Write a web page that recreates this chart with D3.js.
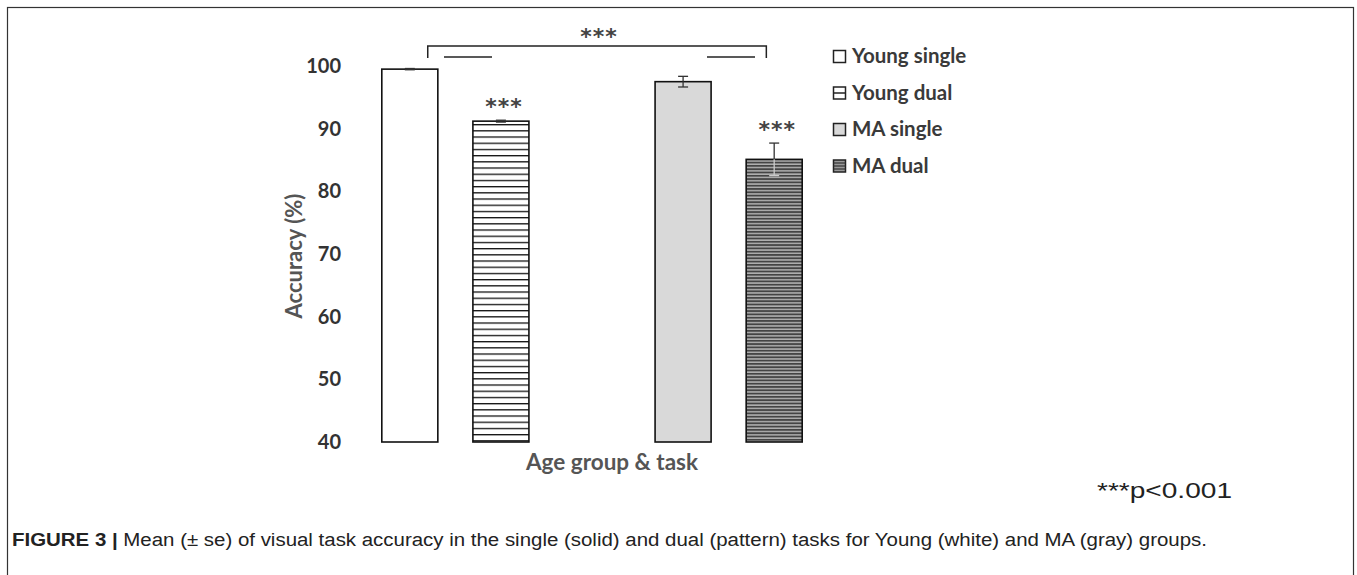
<!DOCTYPE html>
<html>
<head>
<meta charset="utf-8">
<script src="https://cdn.jsdelivr.net/npm/d3@7"></script>
<style>
  body { margin: 0; background: #fff; }
  svg { display: block; }
</style>
</head>
<body>
<div id="chart"></div>
<script>
// ----------------------------
// Data
// ----------------------------
var groups = ["Young single", "Young dual", "", "MA single", "MA dual"];
var means = [99.5, 91.2, null, 97.5, 85.1];
var errors = [0.1, 0.15, null, 0.85, 2.6];
var stars = ["", "***", "", "", "***"];
var legendLabels = ["Young single", "Young dual", "MA single", "MA dual"];
var yTicks = [40, 50, 60, 70, 80, 90, 100];

var Vis = {};
Vis.width = 1357;
Vis.height = 575;
Vis.font = "Lato, 'Open Sans', sans-serif";

Vis.svg = d3.select("#chart").append("svg")
  .attr("width", Vis.width)
  .attr("height", Vis.height);

// frame around the figure
Vis.svg.append("rect")
  .attr("x", 7.5).attr("y", 7.5)
  .attr("width", 1346).attr("height", 600)
  .attr("fill", "none").attr("stroke", "#333").attr("stroke-width", 1.2);

// ----------------------------
// Patterns
// ----------------------------
var defs = Vis.svg.append("defs");
var pYD = defs.append("pattern")
  .attr("id", "youngDual").attr("patternUnits", "userSpaceOnUse")
  .attr("width", 8).attr("height", 6.2);
pYD.append("rect").attr("width", 8).attr("height", 6.2).attr("fill", "#fff");
pYD.append("rect").attr("y", 0).attr("width", 8).attr("height", 1.3).attr("fill", "#111");

var pMD = defs.append("pattern")
  .attr("id", "maDual").attr("patternUnits", "userSpaceOnUse")
  .attr("width", 8).attr("height", 3.3);
pMD.append("rect").attr("width", 8).attr("height", 3.3).attr("fill", "#b0b0b0");
pMD.append("rect").attr("y", 0).attr("width", 8).attr("height", 1.8).attr("fill", "#444");

var fills = ["#ffffff", "url(#youngDual)", "none", "#d9d9d9", "url(#maDual)"];
var legendFills = ["#ffffff", "youngDual", "#d9d9d9", "maDual"];

// ----------------------------
// Scales
// ----------------------------
Vis.x = d3.scaleBand()
  .domain(d3.range(groups.length))
  .range([364.5, 819.5])
  .paddingInner(0.385)
  .paddingOuter(0.19);

Vis.y = d3.scaleLinear()
  .domain([40, 100])
  .range([442, 66]);

// y axis (labels only)
var yAxis = Vis.svg.append("g")
  .attr("transform", "translate(341,0)")
  .call(d3.axisLeft(Vis.y).tickValues(yTicks).tickSize(0).tickPadding(0));
yAxis.select(".domain").remove();
yAxis.selectAll("text")
  .attr("font-family", Vis.font)
  .attr("font-weight", "bold")
  .attr("font-size", 20)
  .attr("fill", "#333");

Vis.svg.append("text")
  .attr("transform", "translate(296,256) rotate(-90)")
  .attr("text-anchor", "middle")
  .attr("dominant-baseline", "middle")
  .attr("font-family", Vis.font)
  .attr("font-weight", "bold")
  .attr("font-size", 22)
  .attr("fill", "#555")
  .text("Accuracy (%)");

Vis.svg.append("text")
  .attr("x", 612).attr("y", 470)
  .attr("text-anchor", "middle")
  .attr("font-family", Vis.font)
  .attr("font-weight", "bold")
  .attr("font-size", 22.5)
  .attr("fill", "#555")
  .text("Age group & task");

// ----------------------------
// Bars
// ----------------------------
var idx = d3.range(groups.length).filter(i => means[i] != null);

Vis.svg.selectAll("rect.bar")
  .data(idx)
  .enter()
  .append("rect")
  .attr("class", "bar")
  .attr("x", i => Vis.x(i))
  .attr("y", i => Vis.y(means[i]))
  .attr("width", Vis.x.bandwidth())
  .attr("height", i => Vis.y(40) - Vis.y(means[i]))
  .attr("fill", i => fills[i])
  .attr("stroke", "#111")
  .attr("stroke-width", 1.6);

// error bars
var cx = i => Vis.x(i) + Vis.x.bandwidth() / 2;
var eb = Vis.svg.selectAll("g.err")
  .data(idx)
  .enter()
  .append("g")
  .attr("class", "err");
eb.append("line")
  .attr("x1", cx).attr("x2", cx)
  .attr("y1", i => Vis.y(means[i] + errors[i]))
  .attr("y2", i => Vis.y(means[i]))
  .attr("stroke", "#333").attr("stroke-width", 1.3);
eb.append("line")
  .attr("x1", cx).attr("x2", cx)
  .attr("y1", i => Vis.y(means[i]))
  .attr("y2", i => Vis.y(means[i] - errors[i]))
  .attr("stroke", i => i == 4 ? "#ccc" : "#333").attr("stroke-width", 1.3);
eb.append("line")
  .attr("x1", i => cx(i) - 5).attr("x2", i => cx(i) + 5)
  .attr("y1", i => Vis.y(means[i] + errors[i]))
  .attr("y2", i => Vis.y(means[i] + errors[i]))
  .attr("stroke", "#333").attr("stroke-width", 1.3);
eb.append("line")
  .attr("x1", i => cx(i) - 5).attr("x2", i => cx(i) + 5)
  .attr("y1", i => Vis.y(means[i] - errors[i]))
  .attr("y2", i => Vis.y(means[i] - errors[i]))
  .attr("stroke", i => i == 4 ? "#ccc" : "#333").attr("stroke-width", 1.3);

// significance stars above bars
Vis.svg.selectAll("text.star")
  .data(idx.filter(i => stars[i]))
  .enter()
  .append("text")
  .attr("class", "star")
  .attr("x", i => cx(i) + 3)
  .attr("y", i => Vis.y(means[i] + errors[i]) - 6)
  .attr("text-anchor", "middle")
  .attr("font-family", "'DejaVu Sans', sans-serif")
  .attr("font-weight", "bold")
  .attr("font-size", 22)
  .attr("fill", "#444")
  .attr("letter-spacing", 1)
  .text(i => stars[i]);

// ----------------------------
// Bracket between single and dual
// ----------------------------
var bx0 = Vis.x(0) + Vis.x.bandwidth() * 0.82;
var bx1 = Vis.x(4) + Vis.x.bandwidth() * 0.36;
var br = Vis.svg.append("g").attr("stroke", "#222").attr("stroke-width", 1.5).attr("fill", "none");
br.append("path").attr("d", `M${bx0},58V46H${bx1}V58`);
br.append("line").attr("x1", 444).attr("x2", 492).attr("y1", 57).attr("y2", 57);
br.append("line").attr("x1", 707).attr("x2", 755).attr("y1", 57).attr("y2", 57);
Vis.svg.append("text")
  .attr("x", 599).attr("y", 44)
  .attr("text-anchor", "middle")
  .attr("font-family", "'DejaVu Sans', sans-serif")
  .attr("font-weight", "bold")
  .attr("font-size", 22)
  .attr("fill", "#444")
  .attr("letter-spacing", 1)
  .text("***");

// ----------------------------
// Legend
// ----------------------------
var lg = Vis.svg.selectAll("g.legend")
  .data(legendLabels)
  .enter()
  .append("g")
  .attr("class", "legend")
  .attr("transform", (d, i) => `translate(833,${57 + i * 36.5})`);

lg.each(function(d, i) {
  var g = d3.select(this);
  if (legendFills[i] == "youngDual") {
    g.append("rect").attr("x", 0.5).attr("y", -6.5).attr("width", 12).attr("height", 12)
      .attr("fill", "#fff").attr("stroke", "#222").attr("stroke-width", 1.5);
    g.append("line").attr("x1", 0.5).attr("x2", 12.5).attr("y1", -0.5).attr("y2", -0.5)
      .attr("stroke", "#222").attr("stroke-width", 1.5);
  } else if (legendFills[i] == "maDual") {
    g.append("rect").attr("x", 0.5).attr("y", -6.5).attr("width", 12).attr("height", 12)
      .attr("fill", "#999").attr("stroke", "#222").attr("stroke-width", 1.5);
    [-3.5, -0.5, 2.5].forEach(yy => g.append("line")
      .attr("x1", 0.5).attr("x2", 12.5).attr("y1", yy).attr("y2", yy)
      .attr("stroke", "#333").attr("stroke-width", 1.2));
  } else {
    g.append("rect").attr("x", 0.5).attr("y", -6.5).attr("width", 12).attr("height", 12)
      .attr("fill", legendFills[i]).attr("stroke", "#222").attr("stroke-width", 1.5);
  }
  g.append("text")
    .attr("x", 19).attr("y", 1)
    .attr("dominant-baseline", "middle")
    .attr("font-family", Vis.font)
    .attr("font-weight", "bold")
    .attr("font-size", 20.5)
    .attr("fill", "#3a3a3a")
    .text(d);
});

// ----------------------------
// Footnote and caption
// ----------------------------
Vis.svg.append("text")
  .attr("x", 1097).attr("y", 498)
  .attr("font-family", "'Liberation Sans', Arial, sans-serif")
  .attr("font-size", 22)
  .attr("fill", "#222")
  .attr("textLength", 135)
  .attr("lengthAdjust", "spacingAndGlyphs")
  .text("***p<0.001");

var cap = Vis.svg.append("text")
  .attr("x", 12).attr("y", 546)
  .attr("font-family", "'Liberation Sans', Arial, sans-serif")
  .attr("font-size", 18)
  .attr("fill", "#222")
  .attr("textLength", 1195)
  .attr("lengthAdjust", "spacingAndGlyphs");
cap.append("tspan").attr("font-weight", "bold").text("FIGURE 3 | ");
cap.append("tspan").text("Mean (\u00b1 se) of visual task accuracy in the single (solid) and dual (pattern) tasks for Young (white) and MA (gray) groups.");
</script>
</body>
</html>
